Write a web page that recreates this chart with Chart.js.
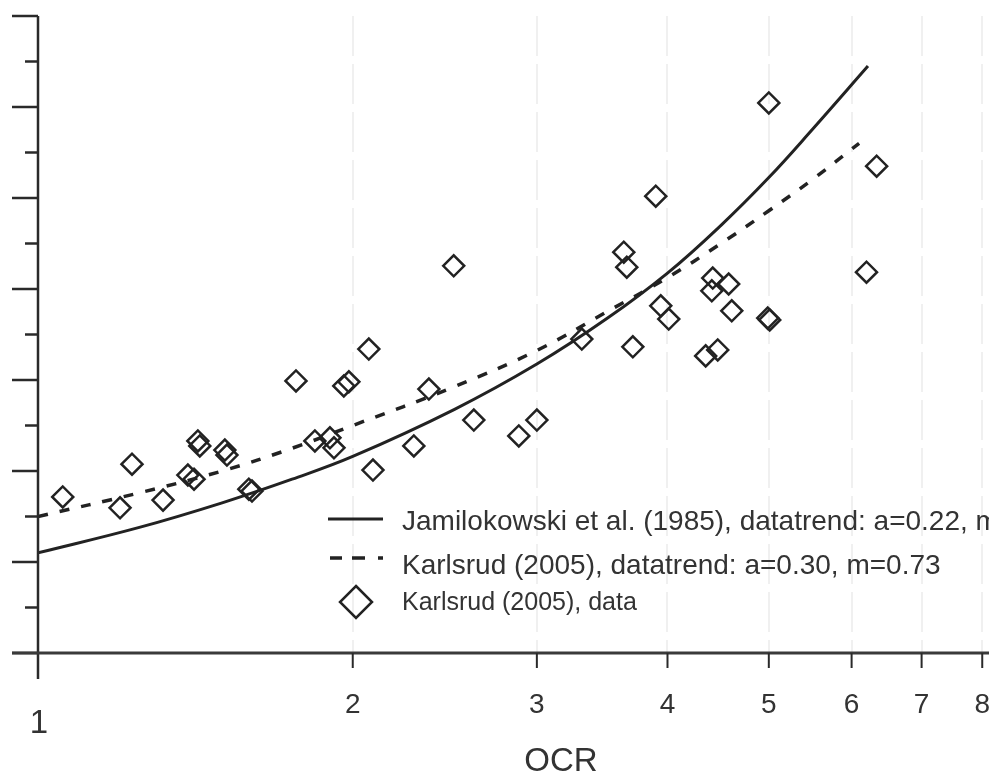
<!DOCTYPE html>
<html>
<head>
<meta charset="utf-8">
<script src="https://cdn.jsdelivr.net/npm/chart.js@4/dist/chart.umd.min.js"></script>
<style>
  html, body { margin: 0; padding: 0; background: #fff; }
  #wrap { width: 989px; height: 773px; position: relative; }
</style>
</head>
<body>
<div id="wrap"><canvas id="ocrChart"></canvas></div>
<script>
// OCR values of the measured points and their y values
const dataOcr = [1.056, 1.198, 1.230, 1.317, 1.391, 1.410, 1.422, 1.428, 1.509, 1.516, 1.591, 1.602,
  1.765, 1.840, 1.902, 1.919, 1.961, 1.983, 2.072, 2.091, 2.288, 2.365, 2.498, 2.611, 2.883, 3.0,
  3.312, 3.633, 3.657, 3.706, 3.898, 3.941, 4.011, 4.351, 4.419, 4.41, 4.468, 4.577, 4.608, 4.988,
  5.01, 5.0, 6.20, 6.34];
const dataY = [0.343, 0.319, 0.415, 0.336, 0.391, 0.382, 0.466, 0.455, 0.446, 0.435, 0.360, 0.356,
  0.598, 0.466, 0.473, 0.451, 0.587, 0.596, 0.668, 0.402, 0.455, 0.580, 0.851, 0.512, 0.477, 0.512,
  0.690, 0.881, 0.848, 0.673, 1.004, 0.763, 0.734, 0.653, 0.824, 0.796, 0.666, 0.811, 0.752, 0.736,
  0.732, 1.209, 0.837, 1.070];

// trend lines
const jamOcr = [1, 1.25, 1.5, 1.75, 2, 2.5, 3, 3.5, 4, 4.5, 5, 5.5, 6.22];
const jamY = [0.22, 0.276, 0.33, 0.382, 0.432, 0.535, 0.635, 0.735, 0.835, 0.94, 1.045, 1.15, 1.29];
const karOcr = [1, 1.25, 1.5, 1.75, 2, 2.5, 3, 3.5, 4, 4.5, 5, 5.5, 6.1];
const karY = [0.30, 0.352, 0.40, 0.45, 0.50, 0.585, 0.665, 0.75, 0.825, 0.90, 0.972, 1.04, 1.12];

const xTicks = [2, 3, 4, 5, 6, 7, 8];
const yMajor = [0, 0.2, 0.4, 0.6, 0.8, 1.0, 1.2, 1.4];
const yMinor = [0.1, 0.3, 0.5, 0.7, 0.9, 1.1, 1.3];
const legendLabels = [
  'Jamilokowski et al. (1985), datatrend: a=0.22, m=0.95',
  'Karlsrud (2005), datatrend: a=0.30, m=0.73',
  'Karlsrud (2005), data'
];

const toXY = (xs, ys) => xs.map((x, i) => ({ x: x, y: ys[i] }));
const ink = '#222';
const font = '"Liberation Sans", Arial, sans-serif';

const axesPlugin = {
  id: 'axesPlugin',
  beforeDatasetsDraw(chart) {
    const ctx = chart.ctx;
    const xs = chart.scales.x;
    const area = chart.chartArea;
    ctx.save();
    // faint vertical grid
    ctx.strokeStyle = '#ececec';
    ctx.lineWidth = 1.5;
    ctx.setLineDash([40, 8]);
    xTicks.forEach(v => {
      const px = Math.round(xs.getPixelForValue(v));
      ctx.beginPath();
      ctx.moveTo(px, area.top);
      ctx.lineTo(px, area.bottom);
      ctx.stroke();
    });
    ctx.restore();
  },
  afterDatasetsDraw(chart) {
    const ctx = chart.ctx;
    const xs = chart.scales.x, ys = chart.scales.y;
    const area = chart.chartArea;
    const x0 = xs.getPixelForValue(1);
    const y0 = ys.getPixelForValue(0);
    ctx.save();
    ctx.strokeStyle = '#2a2a2a';
    ctx.lineCap = 'butt';
    // y axis
    ctx.lineWidth = 2.5;
    ctx.beginPath();
    ctx.moveTo(x0, ys.getPixelForValue(1.4));
    ctx.lineTo(x0, y0 + 26);
    ctx.stroke();
    yMajor.forEach(v => {
      const py = ys.getPixelForValue(v);
      ctx.beginPath(); ctx.moveTo(x0 - 26, py); ctx.lineTo(x0, py); ctx.stroke();
    });
    yMinor.forEach(v => {
      const py = ys.getPixelForValue(v);
      ctx.beginPath(); ctx.moveTo(x0 - 13, py); ctx.lineTo(x0, py); ctx.stroke();
    });
    // x axis
    ctx.lineWidth = 3;
    ctx.strokeStyle = '#3a3a3a';
    ctx.beginPath();
    ctx.moveTo(x0 - 26, y0);
    ctx.lineTo(area.right + 5, y0);
    ctx.stroke();
    ctx.lineWidth = 2;
    ctx.strokeStyle = '#2a2a2a';
    xTicks.forEach(v => {
      const px = xs.getPixelForValue(v);
      ctx.beginPath(); ctx.moveTo(px, y0); ctx.lineTo(px, y0 + 15); ctx.stroke();
    });
    // tick labels
    ctx.fillStyle = '#333';
    ctx.font = '28px ' + font;
    ctx.textAlign = 'center';
    ctx.textBaseline = 'alphabetic';
    xTicks.forEach(v => {
      ctx.fillText(String(v), xs.getPixelForValue(v), y0 + 60);
    });
    ctx.font = '33px ' + font;
    ctx.fillText('1', x0 + 1, y0 + 80);
    ctx.fillText('OCR', 561, y0 + 118);

    // legend
    const lx = 328, tx = 402;
    const rows = [519, 558, 602];
    ctx.strokeStyle = ink;
    ctx.lineWidth = 3;
    ctx.beginPath(); ctx.moveTo(lx, rows[0]); ctx.lineTo(lx + 55, rows[0]); ctx.stroke();
    ctx.lineWidth = 3.5;
    ctx.setLineDash([12, 10, 13, 13, 5, 100]);
    ctx.beginPath(); ctx.moveTo(lx + 2, rows[1]); ctx.lineTo(lx + 56, rows[1]); ctx.stroke();
    ctx.setLineDash([]);
    ctx.lineWidth = 2.5;
    const dx = 356, d = 16;
    ctx.beginPath();
    ctx.moveTo(dx, rows[2] - d); ctx.lineTo(dx + d, rows[2]); ctx.lineTo(dx, rows[2] + d); ctx.lineTo(dx - d, rows[2]);
    ctx.closePath(); ctx.stroke();
    ctx.textAlign = 'left';
    ctx.fillStyle = '#333';
    ctx.font = '28px ' + font;
    ctx.fillText(legendLabels[0], tx, 530);
    ctx.fillText(legendLabels[1], tx, 574);
    ctx.font = '25px ' + font;
    ctx.fillText(legendLabels[2], tx, 610);
    ctx.restore();
  }
};

new Chart('ocrChart', {
  type: 'scatter',
  data: {
    datasets: [
      {
        label: legendLabels[0],
        data: toXY(jamOcr, jamY),
        showLine: true,
        borderColor: ink,
        borderWidth: 3,
        pointRadius: 0,
        tension: 0.4,
        fill: false
      },
      {
        label: legendLabels[1],
        data: toXY(karOcr, karY),
        showLine: true,
        borderColor: ink,
        borderWidth: 3.5,
        borderDash: [10, 12],
        pointRadius: 0,
        tension: 0.4,
        fill: false
      },
      {
        label: legendLabels[2],
        data: toXY(dataOcr, dataY),
        pointStyle: 'rectRot',
        pointRadius: 10.5,
        pointBorderWidth: 2.5,
        borderColor: ink,
        backgroundColor: 'rgba(0,0,0,0)'
      }
    ]
  },
  options: {
    responsive: true,
    maintainAspectRatio: false,
    animation: false,
    layout: { autoPadding: false, padding: { left: 38, top: 16, right: 0, bottom: 120 } },
    plugins: {
      legend: { display: false },
      tooltip: { enabled: false }
    },
    scales: {
      x: { type: 'logarithmic', min: 1, max: 8.12, display: false },
      y: { type: 'linear', min: 0, max: 1.4, display: false }
    }
  },
  plugins: [axesPlugin]
});
</script>
</body>
</html>
